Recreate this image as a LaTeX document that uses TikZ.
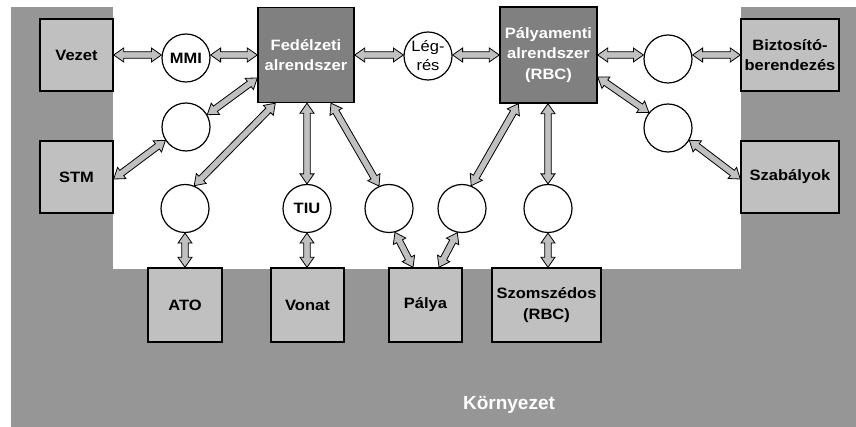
\documentclass[tikz,border=0pt]{standalone}
\usepackage{fontspec}
\usepackage{graphicx}
\setmainfont{Liberation Sans}
\usetikzlibrary{calc}

\definecolor{envgray}{HTML}{969696}
\definecolor{boxlight}{HTML}{C0C0C0}
\definecolor{boxdark}{HTML}{808080}

% slightly widened lettering
\newcommand\wtxt[1]{\scalebox{1.1}[1]{#1}}

% double-headed block arrow between two points
\newcommand\biarrow[2]{%
  \filldraw[fill=boxlight,draw=black,line width=0.8pt,line join=miter]
    let \p1=#1, \p2=#2, \n1={atan2(\y2-\y1,\x2-\x1)},
        \n2={veclen(\x2-\x1,\y2-\y1)} in
    (\p1)
    -- ($(\p1)+(\n1:10pt)+({\n1+90}:7pt)$)
    -- ($(\p1)+(\n1:10pt)+({\n1+90}:3.3pt)$)
    -- ($(\p1)+(\n1:\n2-10pt)+({\n1+90}:3.3pt)$)
    -- ($(\p1)+(\n1:\n2-10pt)+({\n1+90}:7pt)$)
    -- (\p2)
    -- ($(\p1)+(\n1:\n2-10pt)+({\n1-90}:7pt)$)
    -- ($(\p1)+(\n1:\n2-10pt)+({\n1-90}:3.3pt)$)
    -- ($(\p1)+(\n1:10pt)+({\n1-90}:3.3pt)$)
    -- ($(\p1)+(\n1:10pt)+({\n1-90}:7pt)$)
    -- cycle;}

\tikzset{
  ext/.style={draw=black,line width=1.4pt,fill=boxlight,inner sep=0pt,
    align=center,font=\fontsize{15}{20.5}\selectfont\bfseries},
  sub/.style={draw=black,line width=1.4pt,fill=boxdark,inner sep=0pt,
    align=center,text=white,minimum width=96pt,minimum height=95pt,
    font=\fontsize{15}{20.5}\selectfont\bfseries},
  iface/.style={circle,draw=black,line width=1.2pt,fill=white,inner sep=0pt,
    minimum size=48pt,align=center,font=\fontsize{15}{17}\selectfont\bfseries},
}

\begin{document}
\begin{tikzpicture}[x=1pt,y=-1pt]
\useasboundingbox (0,0) rectangle (856,427);
% environment and system area
\fill[envgray] (11,7) rectangle (856,427);
\fill[white] (113,0) rectangle (741,269);

% external actors
\node[ext,minimum width=73pt,minimum height=72pt] (vezet) at (76.5,55) {\wtxt{Vezet}};
\node[ext,minimum width=73pt,minimum height=72pt] (stm) at (76.5,177) {\wtxt{STM}};
\node[ext,minimum width=98pt,minimum height=72pt] (bizt) at (790,55) {\wtxt{Biztosító-}\\\wtxt{berendezés}};
\node[ext,minimum width=98pt,minimum height=72pt] (szab) at (790,177) {\wtxt{Szabályok}};
\node[ext,minimum width=74pt,minimum height=74pt] (ato) at (185,305) {\wtxt{ATO}};
\node[ext,minimum width=73pt,minimum height=74pt] (vonat) at (307.5,305) {\wtxt{Vonat}};
\node[ext,minimum width=73pt,minimum height=74pt] (palya) at (425.5,305) {\wtxt{Pálya}};
\node[ext,minimum width=109pt,minimum height=74pt] (szom) at (546.5,305) {\wtxt{Szomszédos}\\\wtxt{(RBC)}};

% subsystems
\node[sub] (fed) at (306,55) {\wtxt{Fedélzeti}\\\wtxt{alrendszer}};
\node[sub,minimum width=97pt,minimum height=96pt] (pal) at (548.5,55) {\wtxt{Pályamenti}\\\wtxt{alrendszer}\\\wtxt{(RBC)}};

% interfaces
\node[iface] (mmi) at (186,58) {\wtxt{MMI}};
\node[iface,font=\fontsize{15}{19}\selectfont] (legres) at (428,56) {\wtxt{Lég-}\\\wtxt{rés}};
\node[iface] (cr1) at (668,59) {};
\node[iface] (cl2) at (186,127) {};
\node[iface] (cr2) at (668,128) {};
\node[iface] (cato) at (185,208.5) {};
\node[iface] (tiu) at (307,208.5) {\wtxt{TIU}};
\node[iface] (cb3) at (389,208.5) {};
\node[iface] (cb4) at (462,208.5) {};
\node[iface] (cb5) at (548,208.5) {};

% top row links
\biarrow{(vezet.east)}{(mmi.west |- vezet.east)}
\biarrow{(mmi.east |- fed.west)}{(fed.west)}
\biarrow{(fed.east)}{(legres.west |- fed.east)}
\biarrow{(legres.east |- pal.west)}{(pal.west)}
\biarrow{(pal.east)}{(cr1.west |- pal.east)}
\biarrow{(cr1.east |- bizt.west)}{(bizt.west)}

% on-board side
\biarrow{([yshift=-23pt]fed.west)}{(cl2.30)}
\biarrow{(cl2.213)}{([yshift=-2pt]stm.east)}
\biarrow{([xshift=18pt]fed.south west)}{(cato.68)}
\biarrow{(tiu.north |- fed.south)}{(tiu.north)}
\biarrow{([xshift=25pt]fed.south)}{(cb3.114)}

% trackside
\biarrow{([xshift=19pt]pal.south west)}{(cb4.68)}
\biarrow{(cb5.north |- pal.south)}{(cb5.north)}
\biarrow{([yshift=-22pt]pal.east)}{(cr2.141)}
\biarrow{(cr2.-30)}{([yshift=-2pt]szab.west)}

% links to the environment
\biarrow{(cato.south)}{(cato.south |- ato.north)}
\biarrow{(tiu.south)}{(tiu.south |- vonat.north)}
\biarrow{(cb3.-76)}{([xshift=-12.5pt]palya.north)}
\biarrow{(cb4.-101)}{([xshift=13.5pt]palya.north)}
\biarrow{(cb5.south)}{(cb5.south |- szom.north)}

% environment label
\node[text=white,font=\fontsize{19}{22}\selectfont\bfseries] (env) at (509,405) {Környezet};
\end{tikzpicture}
\end{document}
